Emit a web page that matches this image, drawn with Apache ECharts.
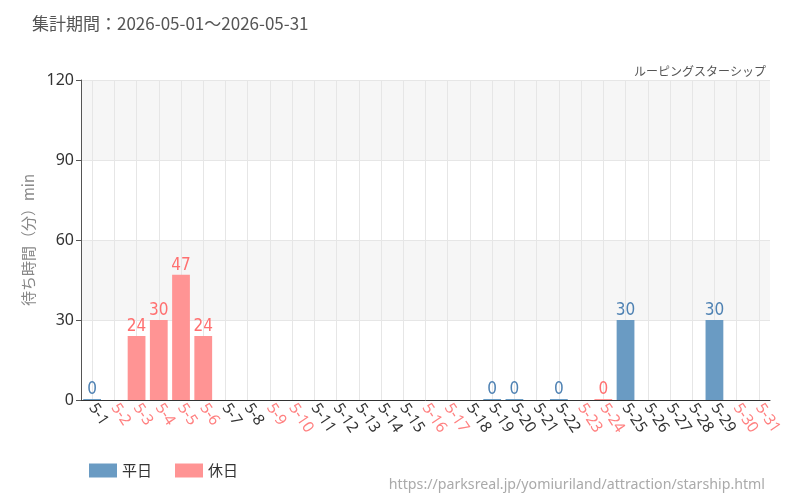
<!DOCTYPE html>
<html>
<head>
<meta charset="utf-8">
<script src="https://cdn.jsdelivr.net/npm/echarts@6/dist/echarts.min.js"></script>
<style>
  html, body { margin: 0; padding: 0; background: #fff; }
  #main { width: 800px; height: 500px; }
</style>
</head>
<body>
<div id="main"></div>
<script>
var days = ['5-1','5-2','5-3','5-4','5-5','5-6','5-7','5-8','5-9','5-10','5-11','5-12','5-13','5-14','5-15','5-16',
  '5-17','5-18','5-19','5-20','5-21','5-22','5-23','5-24','5-25','5-26','5-27','5-28','5-29','5-30','5-31'];
// 休日
var holidays = ['5-2','5-3','5-4','5-5','5-6','5-9','5-10','5-16','5-17','5-23','5-24','5-30','5-31'];
// 待ち時間（null = データなし）
var waitTimes = [0, null, 24, 30, 47, 24, null, null, null, null, null, null, null, null, null, null,
  null, null, 0, 0, null, 0, null, 0, 30, null, null, null, 30, null, null];
var yTicks = [0, 30, 60, 90, 120];

var blue = '#6a9bc3';
var red = '#ff9494';

function isHoliday(d) { return holidays.indexOf(d) >= 0; }

var weekdayData = days.map(function (d, i) { return isHoliday(d) ? null : waitTimes[i]; });
var holidayData = days.map(function (d, i) { return isHoliday(d) ? waitTimes[i] : null; });

var labelFont = '"DejaVu Sans Condensed", "Liberation Sans Narrow", "Roboto Condensed", sans-serif';

var myChart = echarts.init(document.getElementById('main'));
myChart.setOption({
  animation: false,
  title: [
    {
      text: '集計期間：2026-05-01～2026-05-31',
      left: 27, top: 10,
      textStyle: { fontSize: 17, fontWeight: 'normal', color: '#555', fontFamily: '"Noto Sans CJK JP", sans-serif' }
    },
    {
      text: 'ルーピングスターシップ',
      right: 29, top: 60,
      textStyle: { fontSize: 12, fontWeight: 'normal', color: '#555', fontFamily: '"Noto Sans CJK JP", sans-serif' }
    },
    {
      text: 'https://parksreal.jp/yomiuriland/attraction/starship.html',
      right: 30, top: 473,
      textStyle: { fontSize: 14.2, fontWeight: 'normal', color: '#aaa', fontFamily: '"Noto Sans", sans-serif' }
    }
  ],
  legend: {
    left: 84, top: 458,
    itemWidth: 28, itemHeight: 14, itemGap: 23,
    textStyle: { fontSize: 15, color: '#333', fontFamily: '"Noto Sans CJK JP", sans-serif' },
    data: [
      { name: '平日', icon: 'rect' },
      { name: '休日', icon: 'rect' }
    ]
  },
  grid: { left: 81, right: 30, top: 80, bottom: 100 },
  xAxis: {
    type: 'category',
    data: days,
    boundaryGap: true,
    axisLine: { lineStyle: { color: '#333' } },
    axisTick: { alignWithLabel: true, lineStyle: { color: '#333' } },
    splitLine: { show: true, alignWithLabel: true, lineStyle: { color: '#e6e6e6' } },
    axisLabel: {
      interval: 0,
      rotate: -56,
      fontSize: 15.5,
      margin: 5,
      fontFamily: '"Noto Sans", sans-serif',
      color: function (v) { return isHoliday(v) ? '#ff8080' : '#333'; }
    }
  },
  yAxis: {
    type: 'value',
    min: yTicks[0],
    max: yTicks[yTicks.length - 1],
    interval: 30,
    name: '待ち時間（分）min',
    nameLocation: 'middle',
    nameGap: 45,
    nameTextStyle: { fontSize: 15, color: '#888', fontFamily: '"Noto Sans CJK JP", sans-serif' },
    axisLine: { show: true, lineStyle: { color: '#555' } },
    axisTick: { show: true, length: 5, lineStyle: { color: '#555' } },
    axisLabel: { fontSize: 16, color: '#333', margin: 7, fontFamily: '"Noto Sans", sans-serif' },
    splitLine: { lineStyle: { color: '#e6e6e6' } },
    splitArea: { show: true, areaStyle: { color: ['rgba(255,255,255,0)', '#f6f6f6'] } }
  },
  series: [
    {
      name: '平日',
      type: 'bar',
      data: weekdayData,
      barWidth: '80%',
      barGap: '-100%',
      barMinHeight: 1,
      itemStyle: { color: blue },
      label: {
        show: true, position: 'top', distance: 1,
        fontSize: 17, color: '#4f82b3', fontFamily: labelFont
      }
    },
    {
      name: '休日',
      type: 'bar',
      data: holidayData,
      barWidth: '80%',
      barGap: '-100%',
      barMinHeight: 1,
      itemStyle: { color: red },
      label: {
        show: true, position: 'top', distance: 1,
        fontSize: 17, color: '#ff7070', fontFamily: labelFont
      }
    }
  ]
});
</script>
</body>
</html>
